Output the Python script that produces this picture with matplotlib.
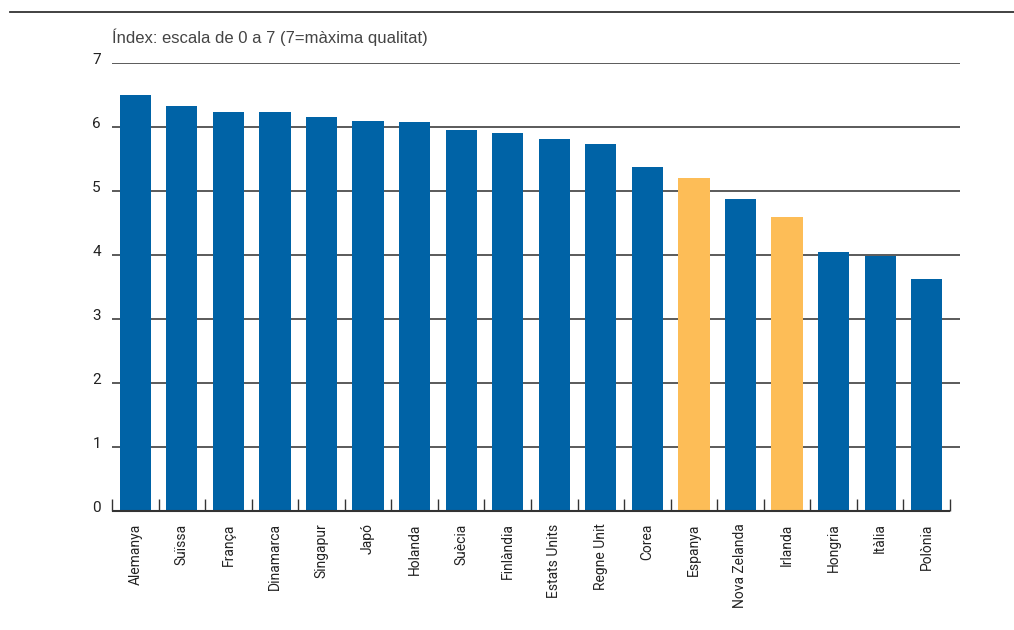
import matplotlib
matplotlib.use("Agg")
import matplotlib.pyplot as plt
import matplotlib.transforms as mtransforms
from matplotlib.lines import Line2D

countries = ["Alemanya", "Suïssa", "França", "Dinamarca", "Singapur", "Japó",
             "Holanda", "Suècia", "Finlàndia", "Estats Units", "Regne Unit",
             "Corea", "Espanya", "Nova Zelanda", "Irlanda", "Hongria",
             "Itàlia", "Polònia"]
values = [6.50, 6.33, 6.23, 6.23, 6.16, 6.09, 6.08, 5.95, 5.91, 5.81, 5.73,
          5.38, 5.20, 4.88, 4.59, 4.05, 3.99, 3.63]
highlight = ["Espanya", "Irlanda"]
y_ticks = [0, 1, 2, 3, 4, 5, 6, 7]
title = "Índex: escala de 0 a 7 (7=màxima qualitat)"

BLUE = "#0063a6"
ORANGE = "#fdbd57"
GRID = "#4d4d4d"
TEXT = "#222222"

narrow = ["Roboto", "DejaVu Sans"]

fig = plt.figure(figsize=(10.14, 6.30), dpi=100)
W, H = 1014, 630
ax_left, ax_right = 112, 960
ax_top, ax_bottom = 63, 511
ax = fig.add_axes([ax_left / W, 1 - ax_bottom / H,
                   (ax_right - ax_left) / W, (ax_bottom - ax_top) / H])

n = len(countries)
cat_w = (950 - ax_left) / n
extra = (ax_right - 950) / cat_w
ax.set_xlim(-0.5, n - 0.5 + extra)
ax.set_ylim(0, 7)

colors = [ORANGE if c in highlight else BLUE for c in countries]
ax.bar(range(n), values, width=0.67, color=colors, zorder=3)

# horizontal gridlines
for y in y_ticks[1:]:
    ax.axhline(y, color=GRID, lw=1.3, zorder=1)

for s in ax.spines.values():
    s.set_visible(False)

# baseline, only under the categories
ax.plot([-0.5, n - 0.5], [0, 0], color="#333333", lw=1.5, zorder=4,
        clip_on=False, solid_capstyle="butt")

# separator ticks between categories pointing up
ax.set_xticks([i - 0.5 for i in range(n + 1)], minor=True)
ax.tick_params(axis="x", which="minor", direction="in", length=8.5,
               width=1.0, color="#333333", top=False, bottom=True)
ax.set_xticks(range(n))
ax.set_xticklabels(countries, rotation=90, family=narrow, fontsize=10,
                   color=TEXT, va="top", ha="center")
ax.tick_params(axis="x", which="major", length=0, pad=9)

ax.set_yticks(y_ticks)
ax.set_yticklabels([str(v) for v in y_ticks], family=narrow, fontsize=11,
                   color=TEXT)
ax.tick_params(axis="y", length=0, pad=8)
offset = mtransforms.ScaledTranslation(0, 4 / 100, fig.dpi_scale_trans)
for lab in ax.get_yticklabels():
    lab.set_transform(lab.get_transform() + offset)

fig.text(ax_left / W, 1 - 37 / H, title, family=["Liberation Sans", "DejaVu Sans"],
         fontsize=12, color="#444444", va="center", ha="left")

# rule across the top of the figure
fig.add_artist(Line2D([10 / W, 1.0], [1 - 12 / H, 1 - 12 / H],
                      transform=fig.transFigure, color="#333333", lw=1.3))

fig.savefig("out.png", dpi=100, facecolor="white")
